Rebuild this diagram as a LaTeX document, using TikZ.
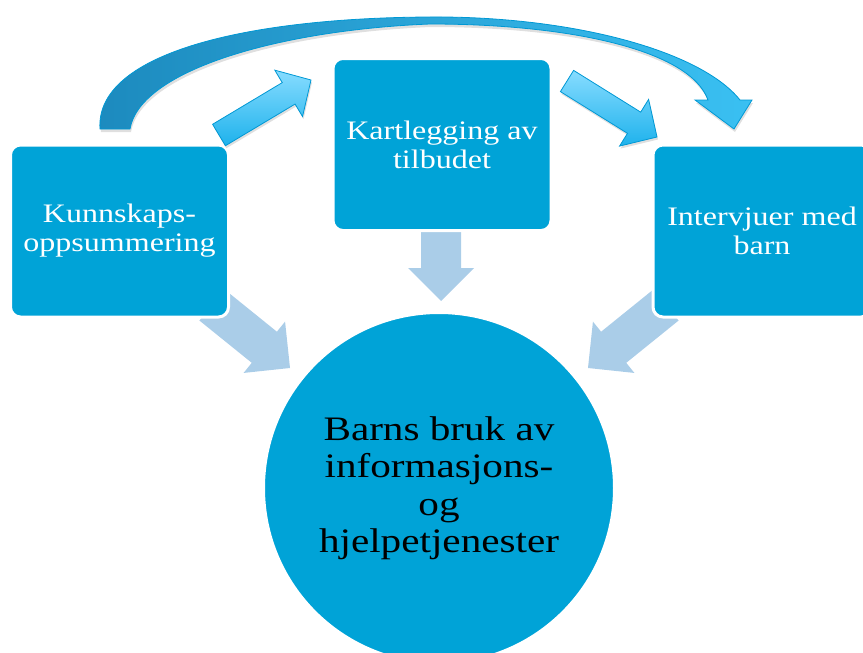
\documentclass[tikz,border=0pt]{standalone}
\usepackage{fontspec}
\setmainfont[FakeStretch=1.2]{Liberation Serif}
\usetikzlibrary{calc,shadows,shapes.geometric}
\definecolor{boxblue}{RGB}{0,163,215}
\definecolor{lightarr}{RGB}{170,205,232}
\definecolor{cyanL}{RGB}{135,220,255}
\definecolor{cyanD}{RGB}{30,178,236}
\definecolor{cyanedge}{RGB}{0,152,212}
\definecolor{curveL}{RGB}{28,138,190}
\definecolor{curveR}{RGB}{58,192,242}
\newcommand\blockarrow[6]{%
  \coordinate (ba-hb) at ($(#3)!#6!(#2)$);
  \path[#1] ($(#2)!#4!90:(#3)$) -- ($(ba-hb)!#4!-90:(#2)$) -- ($(ba-hb)!#5!-90:(#2)$) -- (#3)
     -- ($(ba-hb)!#5!90:(#2)$) -- ($(ba-hb)!#4!90:(#2)$) -- ($(#2)!#4!-90:(#3)$) -- cycle;
}
\tikzset{
  stepbox/.style={fill=boxblue, draw=white, line width=3pt, rounded corners=10pt,
    minimum width=218pt, minimum height=172pt, inner sep=0pt, text=white, align=center,
    font=\fontsize{26.7pt}{29pt}\selectfont},
  hub/.style={circle, fill=boxblue, draw=white, line width=2pt, minimum size=350pt, inner sep=0pt},
  hubtext/.style={text=black, align=center, font=\fontsize{34.3pt}{37.5pt}\selectfont},
  lightarrow/.style={fill=lightarr},
  cyanarrow/.style={top color=cyanL, bottom color=cyanD, draw=cyanedge, line width=0.8pt,
    drop shadow={opacity=0.25, shadow xshift=1pt, shadow yshift=-2.5pt}},
  curvearrow/.style={left color=curveL, right color=curveR, draw=cyanedge, line width=0.8pt,
    drop shadow={opacity=0.25, shadow xshift=1pt, shadow yshift=-3pt}}
}
\begin{document}
\begin{tikzpicture}[x=1pt,y=-1pt]
\useasboundingbox (0,0) rectangle (863,653);
% arrow end points
\coordinate (l1a) at (212,305); \coordinate (l1b) at (290,368);
\coordinate (l2a) at (441,228); \coordinate (l2b) at (441,301);
\coordinate (l3a) at (666,305); \coordinate (l3b) at (588,368);
\coordinate (c1a) at (219,135); \coordinate (c1b) at (311,80);
\coordinate (c2a) at (567,81);  \coordinate (c2b) at (657,137);
% light arrows toward the hub
\blockarrow{lightarrow}{l1a}{l1b}{20pt}{33pt}{33pt}
\blockarrow{lightarrow}{l2a}{l2b}{20pt}{33pt}{33pt}
\blockarrow{lightarrow}{l3a}{l3b}{20pt}{33pt}{33pt}
% boxes
\node[stepbox] (k) at (119.5,231) {Kunnskaps-\\oppsummering};
\node[stepbox] (t) at (442,144.5) {Kartlegging av\\tilbudet};
\node[stepbox] (i) at (762,231) {Intervjuer med\\barn};
% hub
\node[hub] (c) at (439,488) {};
\node[hubtext] (ct) at (c.center) {Barns bruk av\\informasjons-\\og\\hjelpetjenester};
% cyan arrows
\blockarrow{cyanarrow}{c1a}{c1b}{12.5pt}{27pt}{26pt}
\blockarrow{cyanarrow}{c2a}{c2b}{12.5pt}{27.5pt}{27pt}
% big curved arrow
\path[curvearrow] (100,129) .. controls (95,55) and (240,18) .. (430,17)
  .. controls (570,16) and (700,50) .. (740,100) -- (752,100) -- (734,129) -- (695,100) -- (708,100)
  .. controls (690,50) and (570,24) .. (430,24)
  .. controls (280,30) and (140,70) .. (130,129) -- cycle;
\end{tikzpicture}
\end{document}
